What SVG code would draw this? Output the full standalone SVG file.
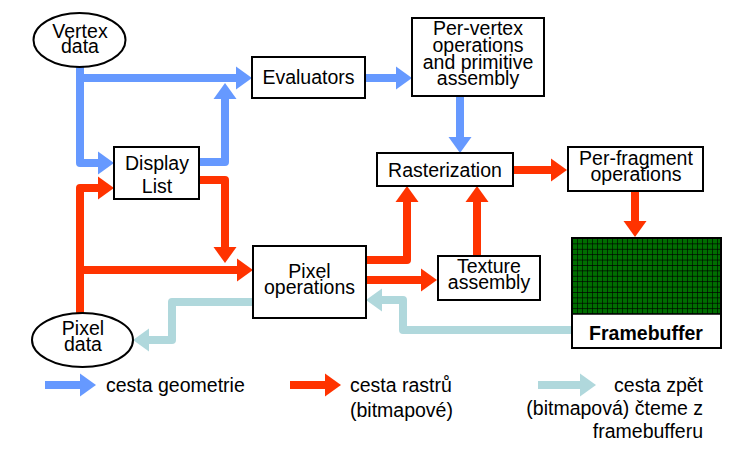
<svg xmlns="http://www.w3.org/2000/svg" width="753" height="466" viewBox="0 0 753 466">
<style>
  .box{fill:#fff;stroke:#000;stroke-width:2}
  .t{font-family:"Liberation Sans",Arial,sans-serif;font-size:19.5px;fill:#000;text-anchor:middle}
  .lg{font-family:"Liberation Sans",Arial,sans-serif;font-size:19.5px;fill:#000}
  .geo{fill:none;stroke:#6699ff;stroke-width:8;stroke-linejoin:round}
  .ras{fill:none;stroke:#ff3300;stroke-width:8;stroke-linejoin:round}
  .back{fill:none;stroke:#b0d8dc;stroke-width:8;stroke-linejoin:round}
</style>
<defs>
  <marker id="ab" markerUnits="userSpaceOnUse" markerWidth="17" markerHeight="24" refX="0" refY="11.5" orient="auto" overflow="visible"><path d="M0,0 L16,11.5 L0,23 z" fill="#6699ff"/></marker>
  <marker id="ar" markerUnits="userSpaceOnUse" markerWidth="17" markerHeight="24" refX="0" refY="11.5" orient="auto" overflow="visible"><path d="M0,0 L16,11.5 L0,23 z" fill="#ff3300"/></marker>
  <marker id="al" markerUnits="userSpaceOnUse" markerWidth="17" markerHeight="24" refX="0" refY="11.5" orient="auto" overflow="visible"><path d="M0,0 L16,11.5 L0,23 z" fill="#b0d8dc"/></marker>
  <pattern id="grid" patternUnits="userSpaceOnUse" x="572" y="238" width="5" height="5.4">
    <rect width="5" height="5.4" fill="#006e00"/>
    <path d="M0,0 V5.4 M0,0 H5" stroke="#000" stroke-width="1.2" fill="none"/>
  </pattern>
</defs>

<g id="connectors">
  <path class="geo" d="M80,66 V163 H98" marker-end="url(#ab)"/>
  <path class="geo" d="M80,78 H236" marker-end="url(#ab)"/>
  <path class="geo" d="M199,162 H225 V99" marker-end="url(#ab)"/>
  <path class="geo" d="M365,78 H396" marker-end="url(#ab)"/>
  <path class="geo" d="M460,96 V137" marker-end="url(#ab)"/>

  <path class="ras" d="M80,314 V188 H98" marker-end="url(#ar)"/>
  <path class="ras" d="M80,270 H237" marker-end="url(#ar)"/>
  <path class="ras" d="M199,180 H225 V247" marker-end="url(#ar)"/>
  <path class="ras" d="M366,260 H407 V202" marker-end="url(#ar)"/>
  <path class="ras" d="M366,280 H421" marker-end="url(#ar)"/>
  <path class="ras" d="M477,256 V202" marker-end="url(#ar)"/>
  <path class="ras" d="M513,170 H551" marker-end="url(#ar)"/>
  <path class="ras" d="M635,191 V221" marker-end="url(#ar)"/>

  <path class="back" d="M572,330 H403 V300 H382" marker-end="url(#al)"/>
  <path class="back" d="M253,302 H172 V340 H149" marker-end="url(#al)"/>
</g>

<g id="vertex-data">
  <ellipse cx="79.5" cy="40" rx="46" ry="27" class="box"/>
  <text class="t" x="80" y="38">Vertex</text>
  <text class="t" x="80" y="53">data</text>
</g>
<g id="evaluators">
  <rect x="252" y="57" width="113" height="41" class="box"/>
  <text class="t" x="308.5" y="84">Evaluators</text>
</g>
<g id="display-list">
  <rect x="114" y="147" width="85" height="52" class="box"/>
  <text class="t" x="157" y="170">Display</text>
  <text class="t" x="157" y="193">List</text>
</g>
<g id="per-vertex">
  <rect x="412" y="18" width="132" height="78" class="box"/>
  <text class="t" x="478" y="35">Per-vertex</text>
  <text class="t" x="478" y="52">operations</text>
  <text class="t" x="478" y="68.5">and primitive</text>
  <text class="t" x="478" y="85">assembly</text>
</g>
<g id="rasterization">
  <rect x="377" y="153" width="136" height="33" class="box"/>
  <text class="t" x="445" y="177">Rasterization</text>
</g>
<g id="per-fragment">
  <rect x="568" y="147" width="135" height="44" class="box"/>
  <text class="t" x="636" y="165">Per-fragment</text>
  <text class="t" x="636" y="181">operations</text>
</g>
<g id="pixel-operations">
  <rect x="253" y="246" width="113" height="72" class="box"/>
  <text class="t" x="309.5" y="278">Pixel</text>
  <text class="t" x="309.5" y="294">operations</text>
</g>
<g id="texture-assembly">
  <rect x="438" y="256" width="102" height="44" class="box"/>
  <text class="t" x="489" y="273">Texture</text>
  <text class="t" x="489" y="289">assembly</text>
</g>
<g id="pixel-data">
  <ellipse cx="82.5" cy="340" rx="50.5" ry="27" class="box"/>
  <text class="t" x="83" y="335">Pixel</text>
  <text class="t" x="83" y="351">data</text>
</g>
<g id="framebuffer">
  <rect x="572" y="238" width="149" height="110" class="box"/>
  <rect x="572" y="238" width="149" height="76" fill="url(#grid)"/>
  <rect x="572" y="238" width="149" height="110" fill="none" stroke="#000" stroke-width="2"/>
  <line x1="572" y1="314" x2="721" y2="314" stroke="#000" stroke-width="1.5"/>
  <text class="t" x="646" y="340" font-weight="bold">Framebuffer</text>
</g>

<g id="legend">
  <path class="geo" d="M45,385 H80" marker-end="url(#ab)"/>
  <text class="lg" x="106" y="392">cesta geometrie</text>
  <path class="ras" d="M290,385 H325" marker-end="url(#ar)"/>
  <text class="lg" x="350" y="392">cesta rastrů</text>
  <text class="lg" x="350" y="417">(bitmapové)</text>
  <path class="back" d="M538,385 H580" marker-end="url(#al)"/>
  <text class="lg" x="703" y="392" text-anchor="end">cesta zpět</text>
  <text class="lg" x="703" y="415" text-anchor="end">(bitmapová) čteme z</text>
  <text class="lg" x="703" y="438" text-anchor="end">framebufferu</text>
</g>
</svg>
